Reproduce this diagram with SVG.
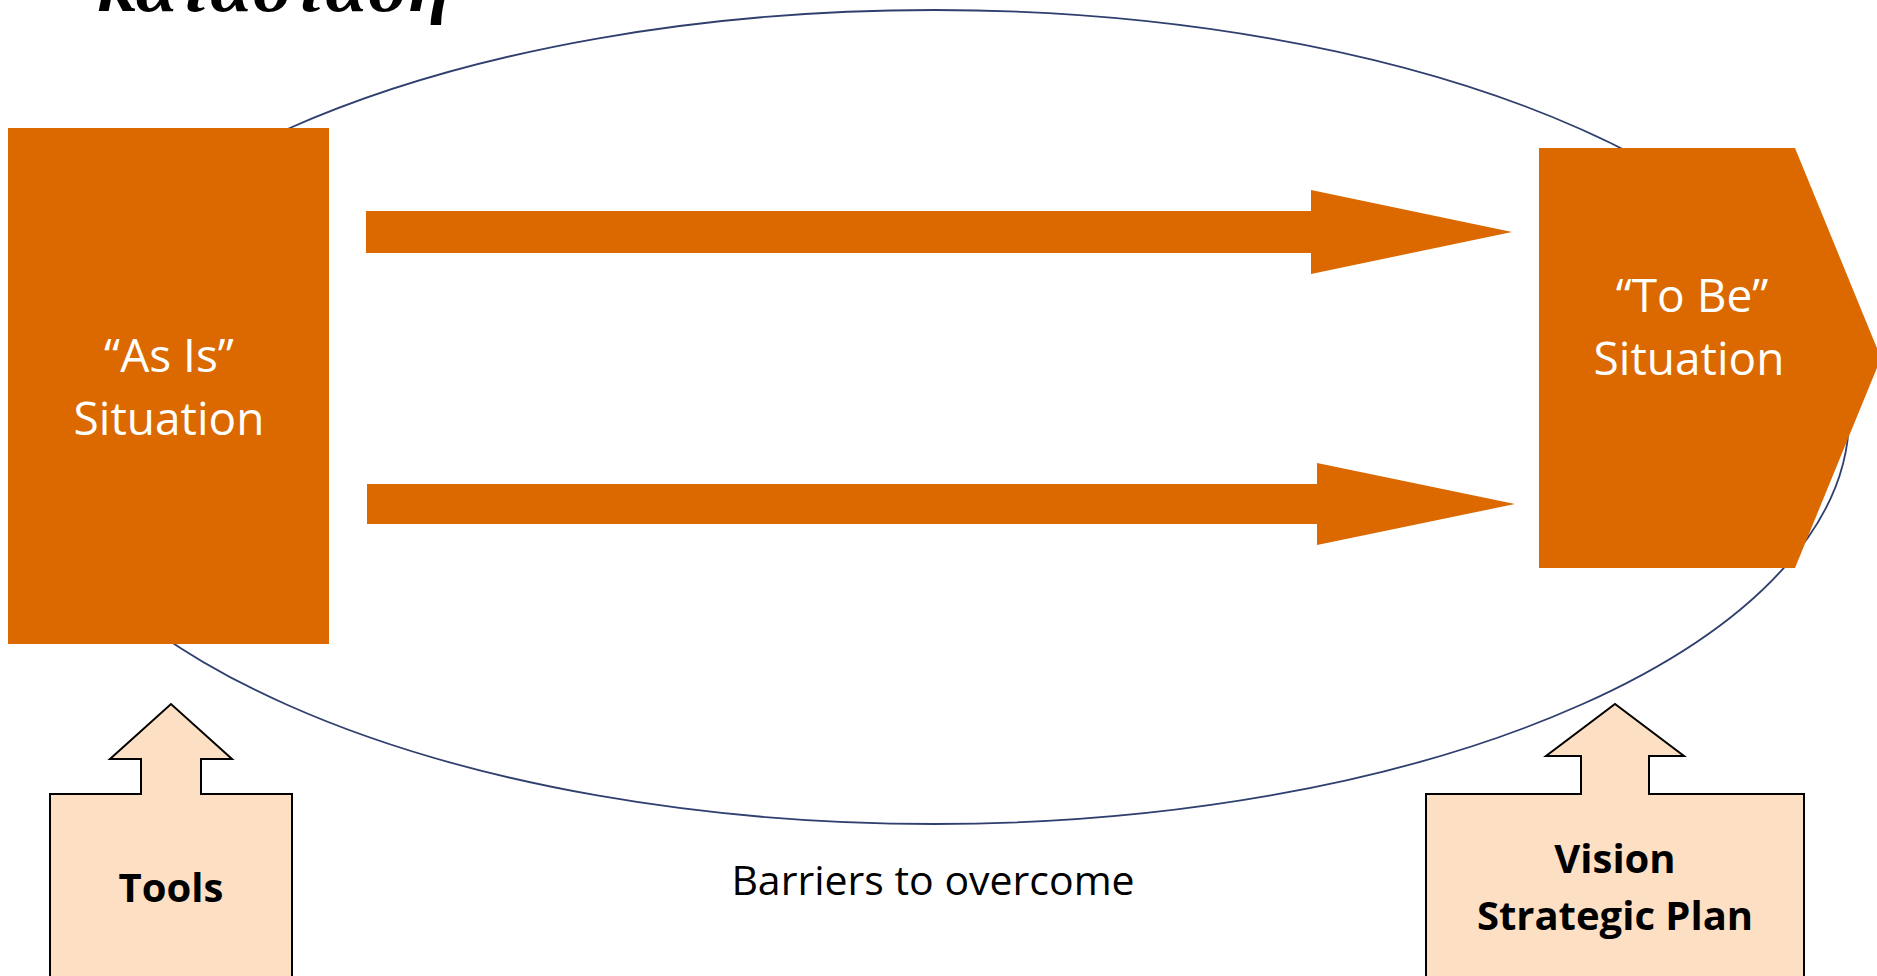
<svg xmlns="http://www.w3.org/2000/svg" width="1877" height="976" viewBox="0 0 1877 976">
  <style>
    .orange { fill: #DB6900; }
    .callout { fill: #FDDFC4; stroke: #000000; stroke-width: 2; stroke-linejoin: miter; }
    .lbl-white { font-family: "Open Sans", "Liberation Sans", sans-serif; font-size: 46px; fill: #FFFFFF; text-anchor: middle; }
    .lbl-bold { font-family: "Open Sans", "Liberation Sans", sans-serif; font-size: 40px; font-weight: bold; fill: #000000; text-anchor: middle; }
    .lbl-plain { font-family: "Open Sans", "Liberation Sans", sans-serif; font-size: 41px; fill: #000000; text-anchor: middle; }
    .title { font-family: "Liberation Serif", "DejaVu Serif", serif; font-size: 66px; font-weight: bold; font-style: italic; fill: #000000; }
  </style>
  <rect width="1877" height="976" fill="#FFFFFF"/>

  <text class="title" x="97" y="11" textLength="353" lengthAdjust="spacingAndGlyphs">κατάσταση</text>

  <g id="barriers">
    <ellipse cx="934" cy="417" rx="915" ry="407" fill="none" stroke="#2F3F6E" stroke-width="1.8"/>
    <text class="lbl-plain" x="933" y="895">Barriers to overcome</text>
  </g>

  <g id="connectors">
    <polygon class="orange" points="366,211 1311,211 1311,190 1512,232 1311,274 1311,253 366,253"/>
    <polygon class="orange" points="367,484 1317,484 1317,463 1515,504 1317,545 1317,524 367,524"/>
  </g>

  <g id="as-is">
    <rect class="orange" x="8" y="128" width="321" height="516"/>
    <text class="lbl-white" x="169" y="372">“As Is”</text>
    <text class="lbl-white" x="169" y="435">Situation</text>
  </g>

  <g id="to-be">
    <polygon class="orange" points="1539,148 1795,148 1881,358 1795,568 1539,568"/>
    <text class="lbl-white" x="1692" y="312">“To Be”</text>
    <text class="lbl-white" x="1689" y="375">Situation</text>
  </g>

  <g id="tools">
    <polygon class="callout" points="50,980 50,794 141,794 141,759 110,759 171,704 232,759 201,759 201,794 292,794 292,980"/>
    <text class="lbl-bold" x="171" y="902">Tools</text>
  </g>

  <g id="vision">
    <polygon class="callout" points="1426,980 1426,794 1581,794 1581,756 1546,756 1615,704 1684,756 1649,756 1649,794 1804,794 1804,980"/>
    <text class="lbl-bold" x="1615" y="873">Vision</text>
    <text class="lbl-bold" x="1615" y="930">Strategic Plan</text>
  </g>
</svg>
